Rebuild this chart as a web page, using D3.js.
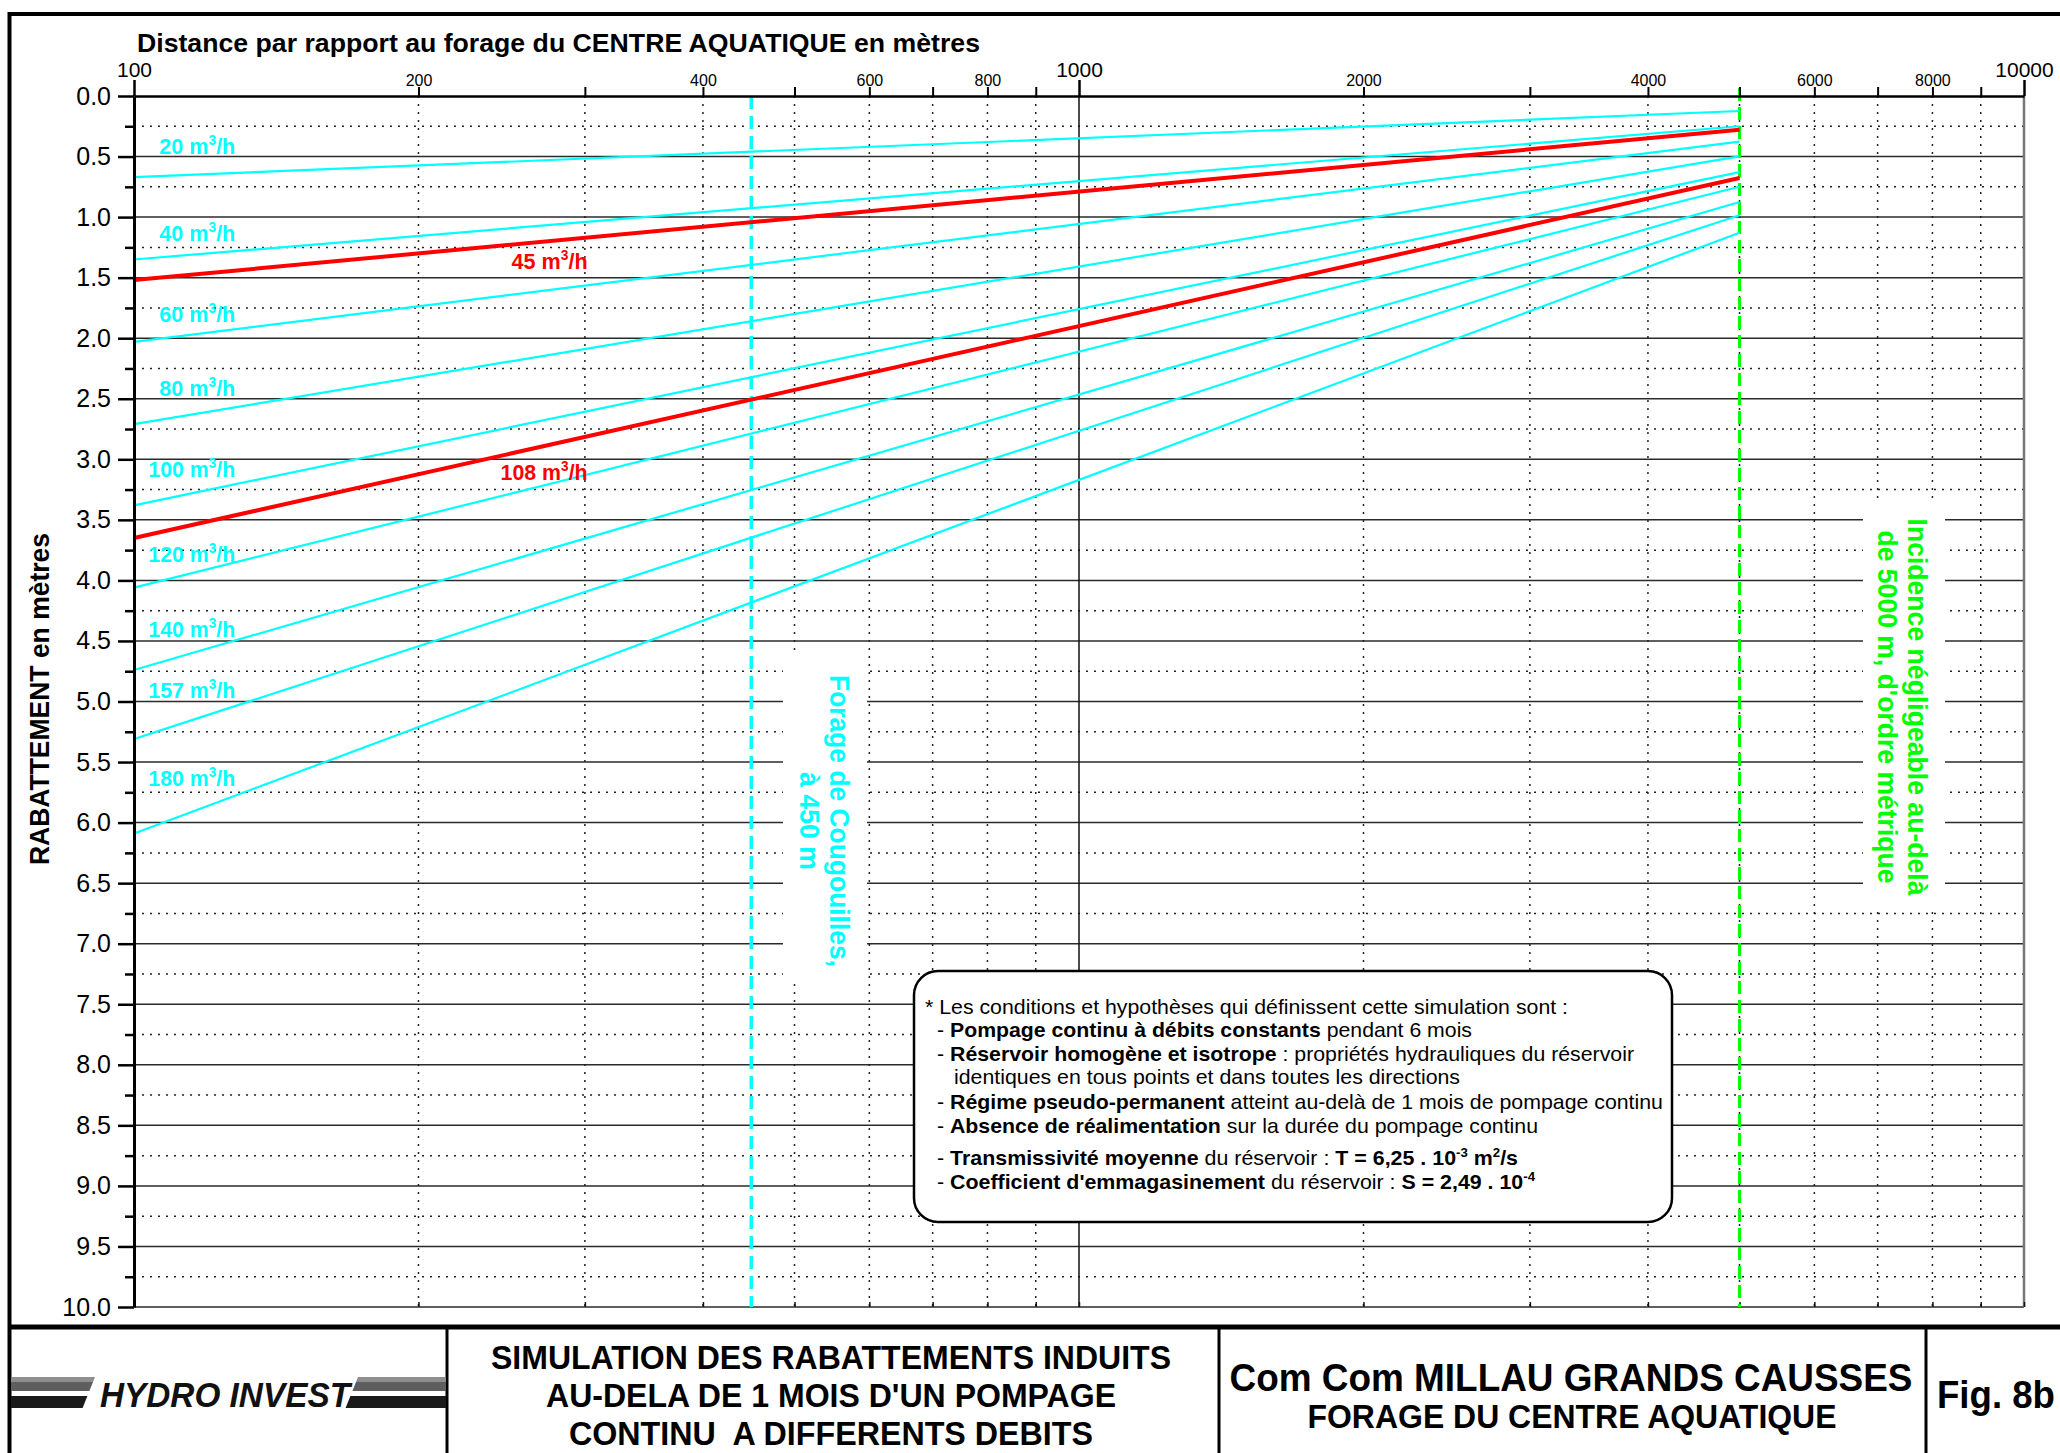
<!DOCTYPE html>
<html>
<head>
<meta charset="utf-8">
<script src="https://cdn.jsdelivr.net/npm/d3@7"></script>
<style>
  body { margin: 0; background: #fff; }
  svg { display: block; }
  text { font-family: "Liberation Sans", Arial, Helvetica, sans-serif; }
</style>
</head>
<body>
<div id="chart"></div>
<script>
const debits = [20, 40, 45, 60, 80, 100, 108, 120, 140, 157, 180]
const debitsEnRouge = [45, 108]
const distances = [100, 5000]
const rabattementA100 = [0.67, 1.35, 1.52, 2.03, 2.71, 3.38, 3.65, 4.06, 4.74, 5.31, 6.09]
const rabattementA5000 = [0.124, 0.25, 0.278, 0.377, 0.498, 0.628, 0.677, 0.749, 0.875, 0.985, 1.129]
// profondeur (m) de la ligne de base de chaque etiquette de courbe
const labelDepth = [0.48, 1.2, 1.43, 1.87, 2.48, 3.15, 3.17, 3.85, 4.47, 4.97, 5.7]
const xTickLabels = [100, 200, 400, 600, 800, 1000, 2000, 4000, 6000, 8000, 10000]
const xMajor = [100, 1000, 10000]
const forageCougouilles = 450
const limiteIncidence = 5000

const W = 2060, H = 1453
const svg = d3.select('#chart').append('svg').attr('width', W).attr('height', H)

const x = d3.scaleLog().domain([100, 10000]).range([134, 2024])
const y = d3.scaleLinear().domain([0, 10]).range([96, 1307])

// squeeze a text to the width it has in the figure (condensed helvetica look)
function fit(sel, w) { sel.attr('textLength', w).attr('lengthAdjust', 'spacingAndGlyphs') }

// ---- grid
const grid = svg.append('g')
const halves = d3.range(1, 21).map(i => i / 2)
const quarters = d3.range(0, 20).map(i => i / 2 + 0.25)
grid.selectAll('line.h').data(halves).join('line').attr('class', 'h')
  .attr('x1', x(100)).attr('x2', x(10000)).attr('y1', y).attr('y2', y)
  .attr('stroke', '#2a2a2a').attr('stroke-width', 1.5)
grid.selectAll('line.q').data(quarters).join('line').attr('class', 'q')
  .attr('x1', x(100)).attr('x2', x(10000)).attr('y1', y).attr('y2', y)
  .attr('stroke', '#222').attr('stroke-width', 1.5).attr('stroke-dasharray', '2,6')
grid.selectAll('line.v').data(x.ticks().filter(d => !xMajor.includes(d))).join('line').attr('class', 'v')
  .attr('x1', x).attr('x2', x).attr('y1', y(0)).attr('y2', y(10))
  .attr('stroke', '#222').attr('stroke-width', 1.5).attr('stroke-dasharray', '2,6')
grid.append('line').attr('x1', x(1000)).attr('x2', x(1000)).attr('y1', y(0)).attr('y2', y(10))
  .attr('stroke', '#111').attr('stroke-width', 1.5)
grid.append('line').attr('x1', x(10000)).attr('x2', x(10000)).attr('y1', y(0)).attr('y2', y(10))
  .attr('stroke', '#777').attr('stroke-width', 2.5)

// small ticks on the bottom edge
const bottom = svg.append('g').attr('transform', `translate(0,${y(10)})`)
  .call(d3.axisTop(x).tickValues(x.ticks()).tickSize(5).tickSizeOuter(0).tickFormat(''))
bottom.select('.domain').remove()
bottom.selectAll('line').attr('stroke', '#111').attr('stroke-width', 1.5)

// ---- reference verticals
svg.append('line').attr('x1', x(forageCougouilles)).attr('x2', x(forageCougouilles))
  .attr('y1', y(0)).attr('y2', y(10))
  .attr('stroke', '#00ffff').attr('stroke-width', 3.5).attr('stroke-dasharray', '13,7')
svg.append('line').attr('x1', x(limiteIncidence)).attr('x2', x(limiteIncidence))
  .attr('y1', y(0) - 8).attr('y2', y(10))
  .attr('stroke', '#00ff00').attr('stroke-width', 3).attr('stroke-dasharray', '13,6')

// vertical notes on white patches
function verticalNote(cx, cy, lines, color, widths, box) {
  svg.append('rect').attr('x', box[0]).attr('y', box[1]).attr('width', box[2]).attr('height', box[3]).attr('fill', '#fff')
  const g = svg.append('g').attr('transform', `translate(${cx},${cy}) rotate(90)`)
  lines.forEach((s, i) => {
    g.append('text').attr('x', 0).attr('y', i * 30).attr('text-anchor', 'middle')
      .attr('font-size', 27).attr('font-weight', 'bold').attr('fill', color).text(s)
      .call(fit, widths[i])
  })
}
verticalNote(830, 821, ['Forage de Cougouilles,', 'à 450 m'], '#00ffff', [292, 98], [783, 655, 84, 323])
verticalNote(1908, 707, ["Incidence négligeable au-delà", "de 5000 m, d'ordre métrique"], '#00ff00', [377, 353], [1863, 500, 82, 407])

// ---- curves
const line = d3.line().x(d => x(d[0])).y(d => y(d[1]))
const curves = debits.map((q, i) => ({
  q, red: debitsEnRouge.includes(q),
  pts: [[distances[0], rabattementA100[i]], [distances[1], rabattementA5000[i]]]
}))
svg.append('g').selectAll('path').data(curves.filter(c => !c.red).concat(curves.filter(c => c.red))).join('path')
  .attr('d', d => line(d.pts)).attr('fill', 'none')
  .attr('stroke', d => d.red ? '#ff0000' : '#00ffff')
  .attr('stroke-width', d => d.red ? 4 : 2.2)

const labels = svg.append('g')
curves.forEach((c, i) => {
  const t = labels.append('text').attr('x', x(c.red ? 302 : 128)).attr('y', y(labelDepth[i]))
    .attr('text-anchor', 'end').attr('font-size', 22).attr('font-weight', 'bold')
    .attr('fill', c.red ? '#ff0000' : '#00ffff')
  t.append('tspan').text(c.q + ' m')
  t.append('tspan').attr('dy', -9).attr('font-size', 14).text('3')
  t.append('tspan').attr('dy', 9).text('/h')
  t.call(fit, c.q >= 100 ? 87 : 76)
})

// ---- axes
const xAxis = svg.append('g').attr('transform', `translate(0,${y(0)})`)
  .call(d3.axisTop(x).tickValues(x.ticks()).tickSize(9).tickSizeOuter(0)
    .tickFormat(d => xTickLabels.includes(d) ? d : ''))
xAxis.select('.domain').attr('stroke', '#000').attr('stroke-width', 2.5)
xAxis.selectAll('.tick line').attr('stroke', '#000').attr('stroke-width', 2)
  .filter(d => xMajor.includes(d)).attr('y2', -16).attr('stroke-width', 2.5)
xAxis.selectAll('.tick text').attr('fill', '#000').attr('font-family', null)
  .attr('font-size', d => xMajor.includes(d) ? 21 : 16)
  .attr('y', d => xMajor.includes(d) ? -19 : -10)

const yAxis = svg.append('g').attr('transform', `translate(${x(100)},0)`)
  .call(d3.axisLeft(y).tickValues(d3.range(0, 41).map(i => i / 4)).tickSize(9).tickSizeOuter(0)
    .tickFormat(d => (d * 2) % 1 === 0 ? d.toFixed(1) : ''))
yAxis.select('.domain').attr('stroke', '#000').attr('stroke-width', 3)
yAxis.selectAll('.tick line').attr('stroke', '#000').attr('stroke-width', 2.5)
  .filter(d => (d * 2) % 1 === 0).attr('x2', -16)
yAxis.selectAll('.tick text').attr('fill', '#000').attr('font-family', null)
  .attr('font-size', 25).attr('x', -23)

svg.append('text').attr('x', 137).attr('y', 52).attr('font-size', 25).attr('font-weight', 'bold')
  .text('Distance par rapport au forage du CENTRE AQUATIQUE en mètres').call(fit, 843)
svg.append('text').attr('transform', 'translate(49,699) rotate(-90)').attr('text-anchor', 'middle')
  .attr('font-size', 27).attr('font-weight', 'bold').text('RABATTEMENT en mètres').call(fit, 332)

// ---- note box
svg.append('rect').attr('x', 914).attr('y', 971).attr('width', 758).attr('height', 251)
  .attr('rx', 24).attr('fill', '#fff').attr('stroke', '#000').attr('stroke-width', 2.5)
const note = [
  { x: 925, y: 1014, w: 643, parts: [['n', '* Les conditions et hypothèses qui définissent cette simulation sont :']] },
  { x: 937, y: 1037, w: 535, parts: [['n', '- '], ['b', 'Pompage continu à débits constants'], ['n', ' pendant 6 mois']] },
  { x: 937, y: 1061, w: 697, parts: [['n', '- '], ['b', 'Réservoir homogène et isotrope'], ['n', ' : propriétés hydrauliques du réservoir']] },
  { x: 954, y: 1084, w: 506, parts: [['n', 'identiques en tous points et dans toutes les directions']] },
  { x: 937, y: 1109, w: 726, parts: [['n', '- '], ['b', 'Régime pseudo-permanent'], ['n', ' atteint au-delà de 1 mois de pompage continu']] },
  { x: 937, y: 1133, w: 601, parts: [['n', '- '], ['b', 'Absence de réalimentation'], ['n', ' sur la durée du pompage continu']] },
  { x: 937, y: 1165, w: 581, parts: [['n', '- '], ['b', 'Transmissivité moyenne'], ['n', ' du réservoir : '], ['b', 'T = 6,25 . 10'], ['s', '-3'], ['b', ' m'], ['s', '2'], ['b', '/s']] },
  { x: 937, y: 1189, w: 598, parts: [['n', '- '], ['b', "Coefficient d'emmagasinement"], ['n', ' du réservoir : '], ['b', 'S = 2,49 . 10'], ['s', '-4']] }
]
note.forEach(l => {
  const t = svg.append('text').attr('x', l.x).attr('y', l.y).attr('font-size', 21).attr('fill', '#000')
  let up = false
  l.parts.forEach(([k, s]) => {
    const sp = t.append('tspan').text(s)
    if (k === 'b' || k === 's') sp.attr('font-weight', 'bold')
    if (k === 's') { sp.attr('font-size', 13).attr('dy', up ? 0 : -8); up = true }
    else if (up) { sp.attr('dy', 8); up = false }
  })
  t.call(fit, l.w)
})

// ---- frame and title block
svg.append('line').attr('x1', 9.5).attr('x2', W).attr('y1', 14).attr('y2', 14).attr('stroke', '#000').attr('stroke-width', 4)
svg.append('line').attr('x1', 9.5).attr('x2', 9.5).attr('y1', 12).attr('y2', H).attr('stroke', '#000').attr('stroke-width', 4)
svg.append('line').attr('x1', 9.5).attr('x2', W).attr('y1', 1327).attr('y2', 1327).attr('stroke', '#000').attr('stroke-width', 5)
;[447, 1219, 1926].forEach(d => svg.append('line').attr('x1', d).attr('x2', d).attr('y1', 1327).attr('y2', H)
  .attr('stroke', '#000').attr('stroke-width', 3))

// logo stripes
const stripes = [
  { c: '#8e8e8e', y0: 1377, y1: 1382 },
  { c: '#5e5e5e', y0: 1382, y1: 1391 },
  { c: '#1a1a1a', y0: 1396, y1: 1408 }
]
const slant = 0.4
stripes.forEach(s => {
  const lx = y => 95 - (y - 1377) * slant
  const rx = y => 358 - (y - 1377) * slant
  svg.append('polygon').attr('fill', s.c)
    .attr('points', [[11, s.y0], [lx(s.y0), s.y0], [lx(s.y1), s.y1], [11, s.y1]].join(' '))
  svg.append('polygon').attr('fill', s.c)
    .attr('points', [[rx(s.y0), s.y0], [446, s.y0], [446, s.y1], [rx(s.y1), s.y1]].join(' '))
})
svg.append('text').attr('x', 100).attr('y', 1407).attr('font-size', 35).attr('font-weight', 'bold')
  .attr('font-style', 'italic').attr('fill', '#111').text('HYDRO INVEST').call(fit, 250)

const titre = ['SIMULATION DES RABATTEMENTS INDUITS', "AU-DELA DE 1 MOIS D'UN POMPAGE", 'CONTINU  A DIFFERENTS DEBITS']
const titreW = [680, 570, 524]
titre.forEach((s, i) => svg.append('text').attr('x', 831).attr('y', 1369 + i * 38).attr('text-anchor', 'middle')
  .attr('font-size', 34).attr('font-weight', 'bold').attr('xml:space', 'preserve').text(s).call(fit, titreW[i]))

svg.append('text').attr('x', 1571).attr('y', 1391).attr('text-anchor', 'middle').attr('font-size', 39)
  .attr('font-weight', 'bold').text('Com Com MILLAU GRANDS CAUSSES').call(fit, 683)
svg.append('text').attr('x', 1572).attr('y', 1428).attr('text-anchor', 'middle').attr('font-size', 33)
  .attr('font-weight', 'bold').text('FORAGE DU CENTRE AQUATIQUE').call(fit, 529)
svg.append('text').attr('x', 1937).attr('y', 1408).attr('font-size', 38)
  .attr('font-weight', 'bold').text('Fig. 8b').call(fit, 118)
</script>
</body>
</html>
